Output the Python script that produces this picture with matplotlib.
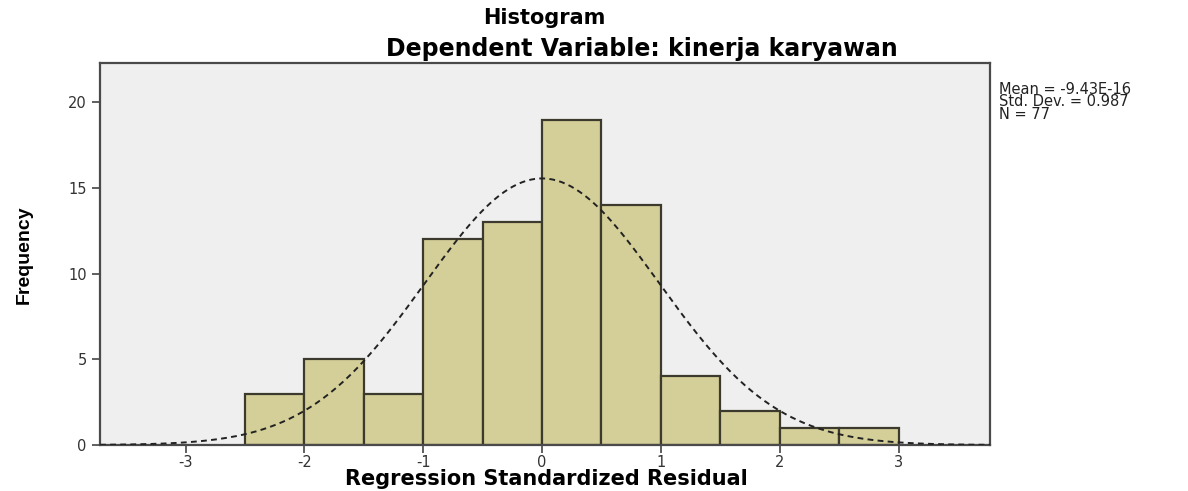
import numpy as np
import matplotlib.pyplot as plt

bin_edges = [-2.5, -2.0, -1.5, -1.0, -0.5, 0.0, 0.5, 1.0, 1.5, 2.0, 2.5, 3.0]
counts = [3, 5, 3, 12, 13, 19, 14, 4, 2, 1, 1]
mean = -9.43e-16
std = 0.987
n_obs = 77
xticks = [-3, -2, -1, 0, 1, 2, 3]
yticks = [0, 5, 10, 15, 20]

plt.rcParams['font.family'] = ['DejaVu Sans']

fig = plt.figure(figsize=(11.88, 4.91), dpi=100)
ax = fig.add_axes([100 / 1188, 1 - 445 / 491, 890 / 1188, 382 / 491])
ax.set_facecolor('#efefef')

edges = np.array(bin_edges)
widths = np.diff(edges)
ax.bar(edges[:-1], counts, width=widths, align='edge', color='#d4cf98',
       edgecolor='#3b3a2c', linewidth=1.6, zorder=2)

# fitted normal curve scaled to counts
xs = np.linspace(-3.72, 3.77, 400)
bw = widths[0]
ys = n_obs * bw * np.exp(-0.5 * ((xs - mean) / std) ** 2) / (std * np.sqrt(2 * np.pi))
ax.plot(xs, ys, color='#222222', linestyle=(0, (3, 2.2)), linewidth=1.4, zorder=3)

ax.set_xlim(-3.72, 3.77)
ax.set_ylim(0, 22.3)
ax.set_xticks(xticks)
ax.set_xticklabels([str(t) for t in xticks])
ax.set_yticks(yticks)
ax.tick_params(direction='out', length=6, width=1.2, color='#444444',
               labelsize=10.5, labelcolor='#333333')
ax.tick_params(axis='x', pad=1.5)
for s in ax.spines.values():
    s.set_color('#4a4a4a')
    s.set_linewidth(1.6)

fig.text(546 / 1188, 1 - 479 / 491, 'Regression Standardized Residual',
         fontsize=15, fontweight='bold', ha='center', va='center')
fig.text(24 / 1188, 1 - 255 / 491, 'Frequency', rotation=90, fontsize=14,
         fontweight='bold', family=['Liberation Sans Narrow', 'Liberation Sans'],
         ha='center', va='center')

fig.text(544 / 1188, 1 - 18 / 491, 'Histogram', fontsize=15, fontweight='bold',
         ha='center', va='center')
fig.text(642 / 1188, 1 - 49 / 491, 'Dependent Variable: kinerja karyawan',
         fontsize=17, fontweight='bold', ha='center', va='center')

fig.text(999 / 1188, 1 - 102 / 491,
         'Mean = -9.43E-16\nStd. Dev. = 0.987\nN = 77',
         fontsize=10.5, ha='left', va='center', linespacing=0.8, color='#222222')

fig.savefig('out.png', dpi=100)
